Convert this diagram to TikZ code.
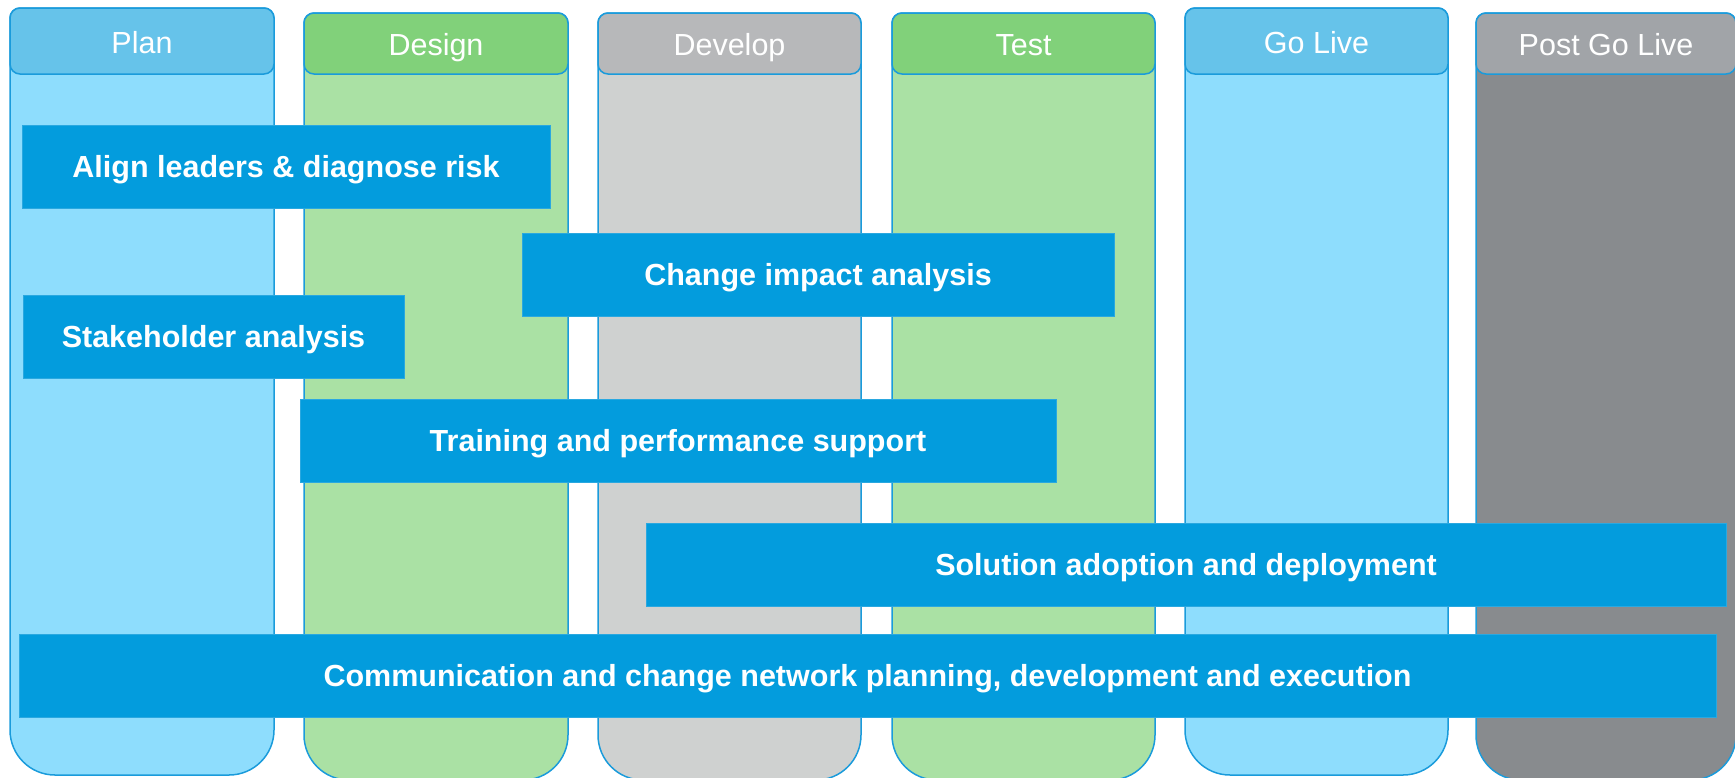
\documentclass[tikz,border=0pt]{standalone}
\usepackage{fontspec}
\setmainfont{Liberation Sans}
\definecolor{bd}{HTML}{1A9BDB}
\definecolor{barfill}{HTML}{039CDD}
\definecolor{barline}{HTML}{2AA8E0}
\definecolor{blueH}{HTML}{66C3EA}
\definecolor{blueB}{HTML}{8EDDFD}
\definecolor{greenH}{HTML}{81D17A}
\definecolor{greenB}{HTML}{AAE1A4}
\definecolor{greyH}{HTML}{B7B8BA}
\definecolor{greyB}{HTML}{CFD1D0}
\definecolor{darkH}{HTML}{A1A4A8}
\definecolor{darkB}{HTML}{888B8E}
\newcommand\colbody[5]{\draw[colline, fill=#5] (#1,100) [rounded corners=45pt] -- (#1,#4) -- (#2,#4) -- (#2,100) [rounded corners=10pt] -- (#2,#3) -- (#1,#3) -- cycle;}
\begin{document}
\begin{tikzpicture}[x=1pt,y=-1pt,
  colline/.style={draw=bd, line width=1.5pt},
  hdr/.style={draw=bd, line width=1.5pt, rounded corners=10pt, text=white, inner sep=0pt,
    font=\fontsize{30.5}{36}\selectfont, text height=24pt, text depth=0pt},
  bar/.style={draw=barline, line width=1pt, fill=barfill, text=white, inner sep=0pt,
    minimum height=83pt, font=\bfseries\fontsize{30.5}{36}\selectfont, text height=22pt, text depth=0pt}]
\useasboundingbox (0,0) rectangle (1735,777);
% column bodies
\colbody{10}{274}{8}{775}{blueB}
\colbody{304}{568}{13}{780}{greenB}
\colbody{598}{861}{13}{780}{greyB}
\colbody{892}{1155}{13}{780}{greenB}
\colbody{1185}{1448}{8}{775}{blueB}
\colbody{1476}{1736}{13}{780}{darkB}
% headers
\node[hdr, fill=blueH, minimum width=264pt, minimum height=66pt] (plan) at (142,41) {Plan};
\node[hdr, fill=greenH, minimum width=264pt, minimum height=61pt] (design) at (436,43.5) {Design};
\node[hdr, fill=greyH, minimum width=263pt, minimum height=61pt] (develop) at (729.5,43.5) {Develop};
\node[hdr, fill=greenH, minimum width=263pt, minimum height=61pt] (test) at (1023.5,43.5) {Test};
\node[hdr, fill=blueH, minimum width=263pt, minimum height=66pt] (golive) at (1316.5,41) {Go Live};
\node[hdr, fill=darkH, minimum width=260pt, minimum height=61pt] (post) at (1606,43.5) {Post Go Live};
% bars
\node[bar, minimum width=528pt] (align) at (286,166.5) {Align leaders \& diagnose risk};
\node[bar, minimum width=592pt] (impact) at (818,274.5) {Change impact analysis};
\node[bar, minimum width=381pt] (stake) at (213.5,336.5) {Stakeholder analysis};
\node[bar, minimum width=756pt] (train) at (678,440.5) {Training and performance support};
\node[bar, minimum width=1080pt] (sol) at (1186,564.5) {Solution adoption and deployment};
\node[bar, minimum width=1697pt] (comm) at (867.5,675.5) {Communication and change network planning, development and execution};
\end{tikzpicture}
\end{document}
